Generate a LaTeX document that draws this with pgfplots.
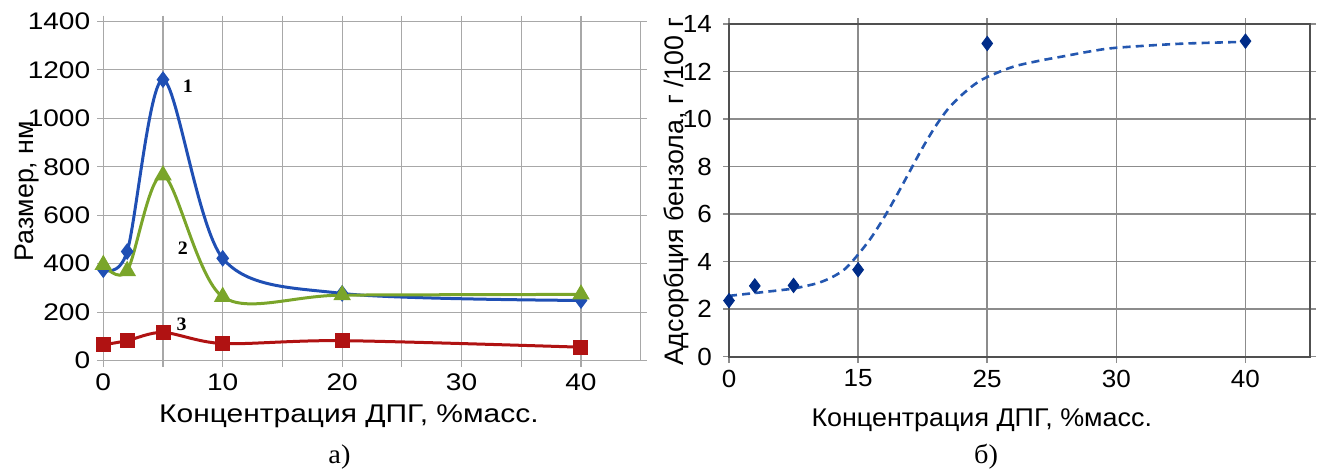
\documentclass[border=0pt]{standalone}
\usepackage{pgfplots}
\pgfplotsset{compat=1.18}
\usepackage{fontspec}
\setmainfont{Liberation Sans}
\newfontfamily\widesans{Liberation Sans}[FakeStretch=1.17]
\newfontfamily\narrowsans{Liberation Sans}[FakeStretch=1.05]
\newfontfamily\wideserif{Liberation Serif}[FakeStretch=1.05]

\definecolor{serA}{HTML}{1F4FB4}
\definecolor{serB}{HTML}{7AA52A}
\definecolor{serC}{HTML}{B01212}
\definecolor{pts}{HTML}{002C88}
\definecolor{trend}{HTML}{2457B0}
\definecolor{gridA}{HTML}{A8A8A8}
\definecolor{gridB}{HTML}{8C8C8C}
\definecolor{frameB}{HTML}{505050}

% particle size vs. DPG concentration
\pgfplotstableread{
x  y
0  375
2  450
5  1160
10 422
20 277
40 248
}\sizeA
\pgfplotstableread{
x  y
0  395
2  370
5  765
10 263
20 270
40 273
}\sizeB
\pgfplotstableread{
x  y
0  65
2  82
5  116
10 70
20 82
40 55
}\sizeC

% benzene adsorption (category positions 0..4 on the axis)
\pgfplotstableread{
x    y
0    2.36
0.2  2.98
0.5  3.00
1.0  3.66
2.0  13.18
4.0  13.28
}\adsPts
\pgfplotstableread{
x    y
0    2.56
0.2  2.68
0.4  2.80
0.5  2.87
0.6  2.98
0.7  3.12
0.8  3.35
0.9  3.70
1.0  4.30
1.1  5.00
1.2  5.85
1.3  6.80
1.4  7.80
1.5  8.80
1.6  9.70
1.7  10.45
1.8  11.00
1.9  11.45
2.0  11.77
2.2  12.20
2.4  12.45
2.6  12.65
2.8  12.85
3.0  13.00
3.5  13.17
4.0  13.25
}\adsTrend

\pgfplotsset{
  common/.style={
    scale only axis,
    anchor=south west,
    /pgf/number format/assume math mode=true,
    /pgf/number format/1000 sep={},
    ylabel style={font=\fontsize{13.4}{16}\selectfont},
    tick align=outside,
    major tick length=3pt,
    minor tick length=3pt,
    clip=false,
  },
}

\begin{document}
\begin{tikzpicture}[x=1pt,y=1pt]
\path[use as bounding box] (0,0) rectangle (659.5,236.5);

\begin{axis}[common,
  at={(51.65pt,56.25pt)},
  width=268.7pt, height=169.5pt,
  xmin=0, xmax=45, ymin=0, ymax=1400,
  xtick={0,10,20,30,40}, minor xtick={5,15,25,35},
  ytick={0,200,...,1400},
  tick label style={font=\widesans\fontsize{12}{14}\selectfont},
  grid=both,
  major grid style={draw=gridA, line width=0.55pt},
  minor grid style={draw=gridA, line width=0.55pt},
  axis line style={draw=gridA, line width=0.6pt},
  tick style={draw=gridA, line width=0.55pt},
  xlabel={\widesans\fontsize{12.8}{15}\selectfont Концентрация ДПГ, \%масс.},
  ylabel={Размер, нм},
  xlabel style={at={(axis description cs:0.457,-0.184)}, anchor=base},
  ylabel style={at={(axis description cs:-0.142,0.5)}, anchor=center},
]
\addplot[serA, line width=1.5pt, smooth, mark=diamond*, mark size=3pt,
  mark options={fill=serA}] table {\sizeA};
\addplot[serB, line width=1.5pt, smooth, mark=triangle*, mark size=3.6pt,
  mark options={fill=serB}] table {\sizeB};
\addplot[serC, line width=1.5pt, smooth, mark=square*, mark size=3pt,
  mark options={fill=serC}] table {\sizeC};
\node[font=\wideserif\bfseries\fontsize{9.5}{11}\selectfont] at (axis cs:7.08,1134) {1};
\node[font=\wideserif\bfseries\fontsize{9.5}{11}\selectfont] at (axis cs:6.66,463) {2};
\node[font=\wideserif\bfseries\fontsize{9.5}{11}\selectfont] at (axis cs:6.55,150) {3};
\end{axis}

\begin{axis}[common,
  at={(364.5pt,58.15pt)},
  width=290.5pt, height=166.35pt,
  xmin=0, xmax=4.5, ymin=0, ymax=14,
  xtick={0,1,2,3,4}, xticklabels={0,15,25,30,40},
  ytick={0,2,...,14},
  tick label style={font=\narrowsans\fontsize{12.4}{14}\selectfont},
  yticklabel style={xshift=-2pt},
  grid=major,
  major grid style={draw=gridB, line width=0.75pt},
  axis line style={draw=frameB, line width=0.8pt},
  tick style={draw=gridB, line width=0.75pt},
  xlabel={\narrowsans\fontsize{12.8}{15}\selectfont Концентрация ДПГ, \%масс.},
  ylabel={Адсорбция бензола, г /100 г},
  xlabel style={at={(axis description cs:0.435,-0.211)}, anchor=base},
  ylabel style={at={(axis description cs:-0.091,0.495)}, anchor=center},
]
\addplot[trend, line width=1.3pt, smooth, dash pattern=on 4pt off 2.6pt] table {\adsTrend};
\addplot[only marks, mark=diamond*, mark size=3.6pt, pts,
  mark options={fill=pts, draw=pts}] table {\adsPts};
\end{axis}

\node[font=\wideserif\fontsize{13.5}{16}\selectfont, anchor=base] at (169.75,5) {а)};
\node[font=\wideserif\fontsize{13.5}{16}\selectfont, anchor=base] at (493,5) {б)};
\end{tikzpicture}
\end{document}
